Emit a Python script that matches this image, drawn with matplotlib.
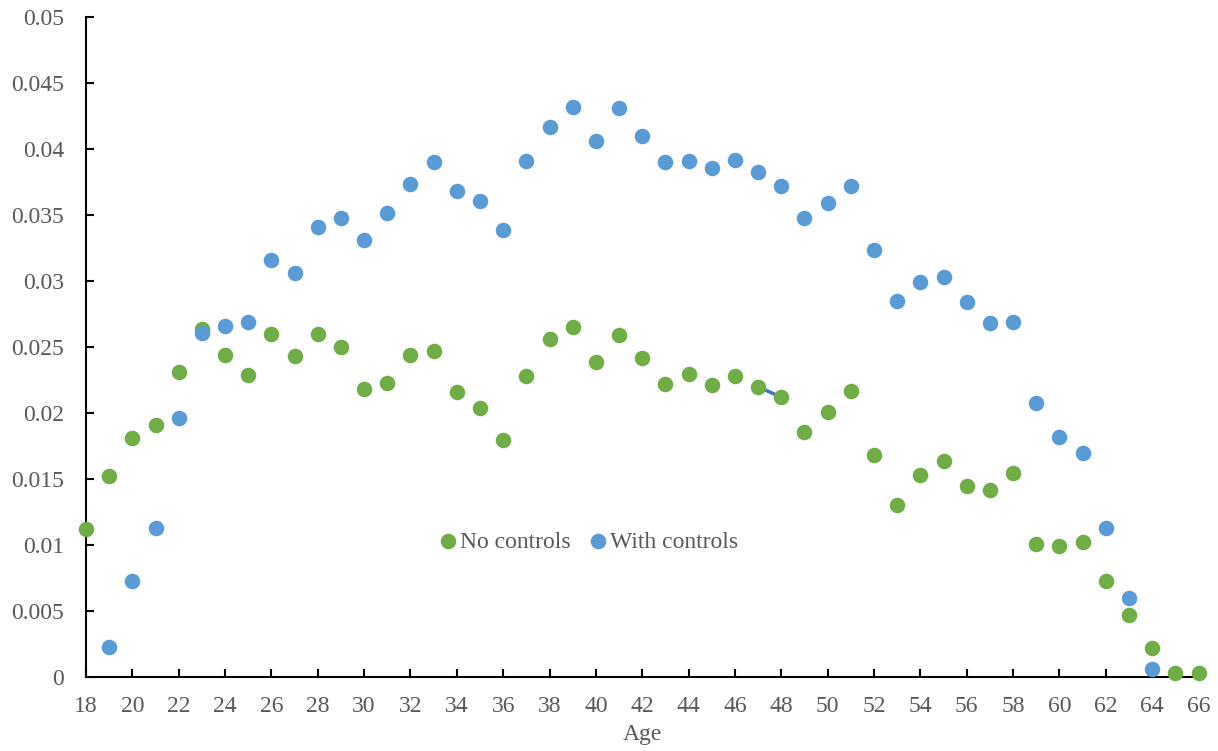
import matplotlib
matplotlib.use("Agg")
import matplotlib.pyplot as plt
import numpy as np

ages_no = list(range(18, 67))
no_controls = [0.0112, 0.0152, 0.0181, 0.0191, 0.0231, 0.0264, 0.0244, 0.0229, 0.0260, 0.0243,
               0.0260, 0.0250, 0.0218, 0.0223, 0.0244, 0.0247, 0.0216, 0.0204, 0.0180, 0.0228,
               0.0256, 0.0265, 0.0239, 0.0259, 0.0242, 0.0222, 0.0230, 0.0221, 0.0228, 0.0220,
               0.0212, 0.0186, 0.0201, 0.0217, 0.0168, 0.0130, 0.0153, 0.0164, 0.0145, 0.0142,
               0.0155, 0.0101, 0.0099, 0.0102, 0.0073, 0.0047, 0.0022, 0.0003, 0.0003]
ages_with = list(range(19, 65))
with_controls = [0.0023, 0.0073, 0.0113, 0.0196, 0.0261, 0.0266, 0.0269, 0.0316, 0.0306, 0.0341,
                 0.0348, 0.0331, 0.0352, 0.0374, 0.0390, 0.0368, 0.0361, 0.0339, 0.0391, 0.0417,
                 0.0432, 0.0406, 0.0431, 0.0410, 0.0390, 0.0391, 0.0386, 0.0392, 0.0383, 0.0372,
                 0.0348, 0.0359, 0.0372, 0.0324, 0.0285, 0.0299, 0.0303, 0.0284, 0.0268, 0.0269,
                 0.0208, 0.0182, 0.0170, 0.0113, 0.0060, 0.0006]
segment_ages = [47, 48]

plt.rcParams['font.family'] = ['Liberation Serif', 'DejaVu Serif']
gray = '#595959'

fig = plt.figure(figsize=(12.18, 7.51), dpi=100)
ax = fig.add_axes([0.0706, 0.0985, 0.9134, 0.8785])

seg_vals = [no_controls[ages_no.index(a)] for a in segment_ages]
ax.plot(segment_ages, seg_vals, color='#4472C4', lw=2.5, zorder=2, clip_on=False)

ax.scatter(ages_no, no_controls, s=125, color='#70AD47', label='No controls', zorder=3,
           clip_on=False, linewidths=0)
ax.scatter(ages_with, with_controls, s=125, color='#5B9BD5', label='With controls', zorder=3,
           clip_on=False, linewidths=0)

ax.set_xlim(18, 66)
ax.set_ylim(0, 0.05)
ax.set_xticks(range(18, 67, 2))
ax.set_yticks(np.arange(0, 0.0501, 0.005))
ax.set_yticklabels(['0', '0.005', '0.01', '0.015', '0.02', '0.025', '0.03', '0.035',
                    '0.04', '0.045', '0.05'])
for s in ['top', 'right']:
    ax.spines[s].set_visible(False)
for s in ['left', 'bottom']:
    ax.spines[s].set_linewidth(1.5)
    ax.spines[s].set_color('black')
ax.tick_params(direction='in', length=6, width=1.5, labelsize=17, labelcolor=gray)
ax.tick_params(axis='y', pad=16)
ax.tick_params(axis='x', pad=14)
ax.set_xlabel('Age', fontsize=17, color=gray, labelpad=5)

leg = ax.legend(loc='center', bbox_to_anchor=(0.445, 0.205), ncol=2, frameon=False,
                fontsize=17, handletextpad=-0.5, columnspacing=0.15, markerscale=1.0)
for t in leg.get_texts():
    t.set_color(gray)

fig.savefig('out.png', dpi=100)
